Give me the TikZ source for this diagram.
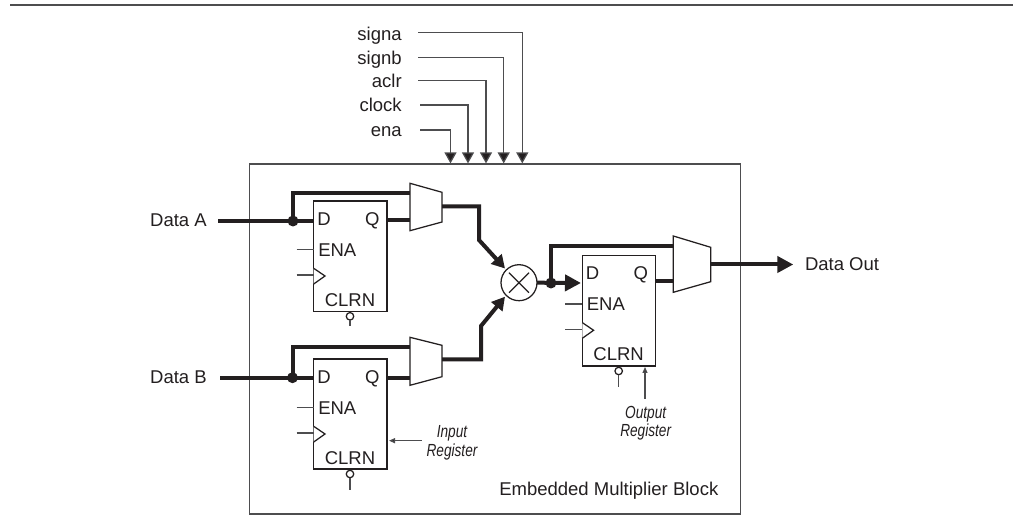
\documentclass[tikz,border=0pt]{standalone}
\usepackage{fontspec}
\setmainfont{Liberation Sans}
\newfontfamily\condfont[FakeStretch=0.78]{Liberation Sans}
\usetikzlibrary{arrows.meta,calc}
\definecolor{ink}{HTML}{231F20}
\definecolor{boxgray}{HTML}{4D4D4F}
\tikzset{
  x=1pt,y=-1pt,
  every node/.style={inner sep=0pt,outer sep=0pt,text=ink},
  thin wire/.style={draw=boxgray,line width=1.25pt},
  bus/.style={draw=ink,line width=4pt,line join=miter},
  busarrow/.style={bus,-{Triangle[length=16pt,width=16pt]}},
  multarrow/.style={bus,-{Triangle[length=13pt,width=14pt]}},
  ctl/.style={thin wire,-{Triangle[length=11pt,width=12pt,fill=ink]}},
  small arrow/.style={thin wire,-{Triangle[length=6pt,width=5pt,fill=ink]}},
  reg/.style={draw=ink,line width=1.25pt,fill=white,minimum width=#1,anchor=north west},
  lab/.style={font=\fontsize{18.5}{20}\selectfont},
  note/.style={font=\fontsize{17.5}{20}\selectfont\condfont\itshape},
  dot/.style={circle,fill=ink,minimum size=11pt},
  mux/.style={draw=ink,line width=1.25pt,fill=white,line join=miter},
  bubble/.style={circle,draw=ink,line width=1.25pt,fill=white,minimum size=7.5pt},
}
\begin{document}
\begin{tikzpicture}
\useasboundingbox (0,0) rectangle (1013,526);
\fill[white] (0,0) rectangle (1013,526);
% top rule
\coordinate (ruleL) at (10,5); \coordinate (ruleR) at (1013,5);
\draw[boxgray,line width=2pt] (ruleL) -- (ruleR);
% block
\node[draw=boxgray,line width=1.25pt,minimum width=490.5pt,minimum height=350pt,anchor=north west] (block) at (249.7,164) {};
\node[lab,anchor=base east] (blocklab) at (718.3,496) {Embedded Multiplier Block};
% registers
\node[reg=73.3pt,minimum height=110.3pt] (rega) at (313.7,201) {};
\node[reg=73.3pt,minimum height=110pt] (regb) at (313.7,359) {};
\node[reg=73pt,minimum height=110.7pt] (rego) at (582.3,255.3) {};
% register texts and pins
\foreach \r/\xo/\yo in {rega/313.7/201,regb/313.7/359,rego/582.3/255.3}{
  \node[lab,anchor=base] (\r D) at (\xo+10.3,\yo+24.7) {D};
  \node[lab,anchor=base] (\r Q) at (\xo+58.6,\yo+24.7) {Q};
  \node[lab,anchor=base west] (\r E) at (\xo+4.6,\yo+55.7) {ENA};
  \node[lab,anchor=base] (\r C) at (\xo+36.3,\yo+105.7) {CLRN};
  \draw[draw=ink,line width=1.25pt,fill=white] (\xo,\yo+67.3) -- (\xo+11.3,\yo+75) -- (\xo,\yo+83);
  \coordinate (\r CK) at (\xo,\yo+74);
  \coordinate (\r EN) at (\xo,\yo+48.7);
  \coordinate (\r CKin) at (\xo-17,\yo+74);
  \coordinate (\r ENin) at (\xo-17,\yo+48.7);
  \draw[thin wire] (\r ENin) -- (\r EN);
  \draw[thin wire] (\r CKin) -- (\r CK);
}
% clear bubbles
\node[bubble] (buba) at (350,316.3) {};
\coordinate (bubae) at (350,325.7); \draw[thin wire] (buba) -- (bubae);
\node[bubble] (bubb) at (350,474) {};
\coordinate (bubbe) at (350,490); \draw[thin wire] (bubb) -- (bubbe);
\node[bubble] (bubo) at (618.7,371) {};
\coordinate (buboe) at (618.7,386.7); \draw[thin wire] (bubo) -- (buboe);
% muxes
\draw[mux] (410,183.3) -- (442,192.3) -- (442,222) -- (410,230.7) -- cycle;
\draw[mux] (410,337.3) -- (442,345.3) -- (442,376.7) -- (410,385.3) -- cycle;
\draw[mux] (673.3,236) -- (710.7,247.3) -- (710.7,281.7) -- (673.3,292.3) -- cycle;
\coordinate (muxaT) at (410,193); \coordinate (muxaQ) at (410,220.5); \coordinate (muxaOut) at (442,206.5);
\coordinate (muxbT) at (410,347); \coordinate (muxbQ) at (410,378); \coordinate (muxbOut) at (442,359.5);
\coordinate (muxoT) at (673.3,246.5); \coordinate (muxoQ) at (673.3,281); \coordinate (muxoOut) at (710.7,264.5);
% multiplier
\node[circle,draw=ink,line width=1.25pt,minimum size=36pt,fill=white] (mult) at (519,282.7) {};
\coordinate (mNW) at (509,272.7); \coordinate (mSE) at (529,292.7);
\coordinate (mNE) at (529,272.7); \coordinate (mSW) at (509,292.7);
\draw[ink,line width=1.25pt] (mNW) -- (mSE);
\draw[ink,line width=1.25pt] (mNE) -- (mSW);
% data labels
\node[lab,anchor=base east] (dataa) at (206.7,227) {Data A};
\node[lab,anchor=base east] (datab) at (206.7,384) {Data B};
\node[lab,anchor=base west] (dataout) at (805,270.5) {Data Out};
% input buses
\coordinate (inA) at (218,221); \coordinate (inB) at (220,377.7);
\node[dot] (dota) at (293,221) {};
\node[dot] (dotb) at (292.5,377.7) {};
\node[dot] (doto) at (551,283) {};
\coordinate (dA) at (313.7,221); \coordinate (dB) at (313.7,377.7);
\coordinate (qA) at (387,220.5); \coordinate (qB) at (387,378); \coordinate (qO) at (655.3,281);
\draw[bus] (inA) -- (dA);
\draw[bus] (inB) -- (dB);
\draw[bus] (dota.center) -- (293,193) -- (muxaT);
\draw[bus] (dotb.center) -- (292.5,347) -- (muxbT);
\draw[bus] (qA) -- (muxaQ);
\draw[bus] (qB) -- (muxbQ);
% to multiplier
\coordinate (multA) at (505,268.5); \coordinate (multB) at (505,296.7);
\draw[multarrow] (muxaOut) -- (479,206.5) -- (479,240) -- (multA);
\draw[multarrow] (muxbOut) -- (481,359.5) -- (481,326) -- (multB);
% output side
\coordinate (dO) at (581,283);
\draw[busarrow] (mult.east) -- (dO);
\draw[bus] (doto.center) -- (551,246.5) -- (muxoT);
\draw[bus] (qO) -- (muxoQ);
\coordinate (outTip) at (793.3,264.5);
\draw[busarrow] (muxoOut) -- (outTip);
% control inputs
\node[lab,anchor=base east] (signa) at (401.7,41) {signa};
\node[lab,anchor=base east] (signb) at (401.7,65) {signb};
\node[lab,anchor=base east] (aclr) at (401.7,88) {aclr};
\node[lab,anchor=base east] (clock) at (401.7,112) {clock};
\node[lab,anchor=base east] (ena) at (401.7,137) {ena};
\coordinate (s1) at (418,32.7); \coordinate (s2) at (418,57.7); \coordinate (s3) at (418,80.7); \coordinate (s4) at (420,105); \coordinate (s5) at (420,130);
\coordinate (t1) at (522.3,163.4); \coordinate (t2) at (503.7,163.4); \coordinate (t3) at (486,163.4); \coordinate (t4) at (468,163.4); \coordinate (t5) at (450.5,163.4);
\draw[ctl] (s1) -| (t1);
\draw[ctl] (s2) -| (t2);
\draw[ctl] (s3) -| (t3);
\draw[ctl] (s4) -| (t4);
\draw[ctl] (s5) -| (t5);
% notes
\node[note,anchor=base] (n1) at (452,438) {Input};
\node[note,anchor=base] (n2) at (452,457) {Register};
\node[note,anchor=base] (n3) at (645.7,419) {Output};
\node[note,anchor=base] (n4) at (645.7,437) {Register};
\coordinate (n1a) at (421.7,440.7); \coordinate (n1b) at (389,440.7);
\draw[small arrow] (n1a) -- (n1b);
\coordinate (n3a) at (645,399); \coordinate (n3b) at (645,367);
\draw[small arrow] (n3a) -- (n3b);
\end{tikzpicture}
\end{document}
